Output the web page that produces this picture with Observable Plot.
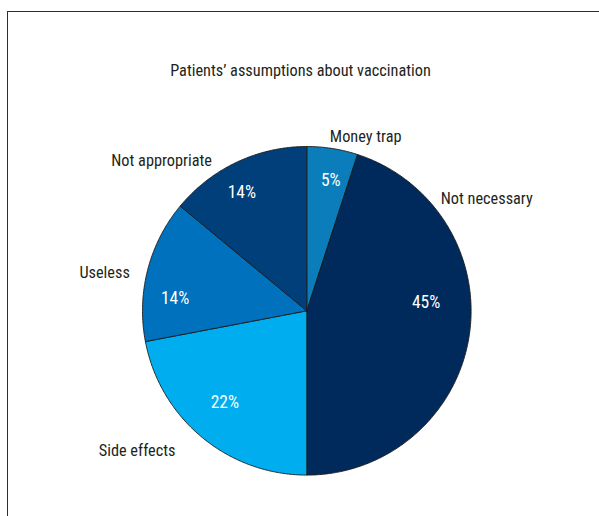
<!DOCTYPE html>
<html><head><meta charset="utf-8">
<script src="https://cdn.jsdelivr.net/npm/d3@7"></script>
<script src="https://cdn.jsdelivr.net/npm/@observablehq/plot@0.6"></script>
<style>
html,body{margin:0;padding:0;background:#fff;overflow:hidden;width:599px;height:516px;}
#frame{position:absolute;left:7px;top:11px;width:640px;height:560px;border:1px solid #2e2e2e;box-sizing:border-box;}
#chart{position:absolute;left:0;top:0;}
#title{position:absolute;left:0;width:601px;top:61px;text-align:center;color:#231f20;font-size:16.3px;line-height:20px;}
</style></head><body>
<div id="frame"></div>
<div id="chart"></div>
<div id="title"></div>
<script>
// ---- data ----
const categories = ["Money trap", "Not necessary", "Side effects", "Useless", "Not appropriate"];
const shares = [5, 45, 22, 14, 14];
const shareLabels = ["5%", "45%", "22%", "14%", "14%"];
const colors = ["#0A7DBA", "#002A5C", "#00AEEF", "#0071BC", "#003F7A"];
const titleText = "Patients’ assumptions about vaccination";

// ---- layout (placement along each slice: t = fraction of slice angle, r = radius factor) ----
const nameLayout = [{t: 1.04, r: 1.117}, {t: 0.248, r: 1.289}, {t: 0.638, r: 1.338}, {t: 0.425, r: 1.252}, {t: 0.125, r: 1.27}];
const pctLayout = [{t: 0.58, r: 0.806}, {t: 0.419, r: 0.728}, {t: 0.527, r: 0.749}, {t: 0.32, r: 0.805}, {t: 0.43, r: 0.823}];
const cx = 306.3, cy = 310.3, R = 164.3;

const FONT = '"Roboto Condensed", "DejaVu Sans Condensed", "Roboto", sans-serif';
document.getElementById("title").style.fontFamily = FONT;
document.getElementById("title").textContent = titleText;

const arcs = d3.pie().sort(null).value(d => d)(shares);
const pt = (a, r) => ({x: r * Math.sin(a), y: r * Math.cos(a)});

const sliceMarks = arcs.map((a, i) => {
  const n = Math.max(2, Math.ceil((a.endAngle - a.startAngle) / (Math.PI / 360)));
  const pts = [{x: 0, y: 0}];
  for (let k = 0; k <= n; k++) pts.push(pt(a.startAngle + (a.endAngle - a.startAngle) * k / n, 1));
  pts.push({x: 0, y: 0});
  return Plot.line(pts, {x: "x", y: "y", fill: colors[i], stroke: "#1b1b1b", strokeWidth: 0.9, strokeLinejoin: "round", curve: "linear"});
});

const placed = (lay) => arcs.map((a, i) => {
  const ang = a.startAngle + (a.endAngle - a.startAngle) * lay[i].t;
  return {...pt(ang, lay[i].r), i};
});
const names = placed(nameLayout).map(d => ({...d, text: categories[d.i]}));
const pcts = placed(pctLayout).map(d => ({...d, text: shareLabels[d.i]}));

const chart = Plot.plot({
  width: 599, height: 516, margin: 0,
  style: {background: "transparent", fontFamily: FONT},
  x: {domain: [-1, 1], range: [cx - R, cx + R], axis: null},
  y: {domain: [-1, 1], range: [cy + R, cy - R], axis: null},
  marks: [
    ...sliceMarks,
    Plot.text(pcts, {x: "x", y: "y", text: "text", fill: "#ffffff", fontSize: 17.5, textAnchor: "middle", lineAnchor: "middle"}),
    Plot.text(names, {x: "x", y: "y", text: "text", fill: "#231f20", fontSize: 16.3, textAnchor: "middle", lineAnchor: "middle"})
  ]
});
document.getElementById("chart").appendChild(chart);
</script>
</body></html>
